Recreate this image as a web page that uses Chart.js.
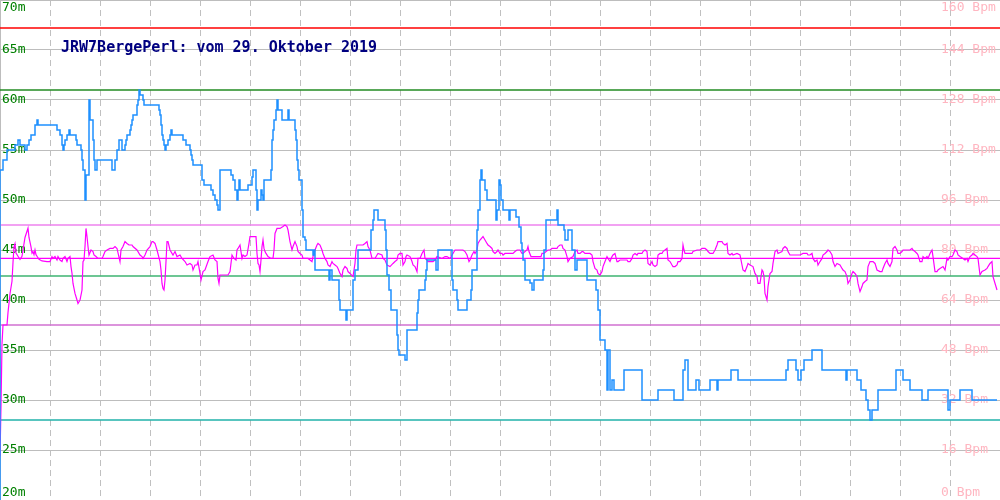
<!DOCTYPE html>
<html>
<head>
<meta charset="utf-8">
<script src="https://cdn.jsdelivr.net/npm/chart.js@4.4.1/dist/chart.umd.min.js"></script>
<style>
  html, body { margin: 0; padding: 0; background: #fff; overflow: hidden; }
  canvas { display: block; }
</style>
</head>
<body>
<canvas id="chart" width="1000" height="500"></canvas>
<script>
// --- data (x = sample position along the track) ---
const chartTitle = 'JRW7BergePerl: vom 29. Oktober 2019';

// altitude in metres, [x, m]; the value holds until the next point
const altitudeA = [[0,20],[3,53],[7,54],[15,55],[18,55.5],[20,56],[25,55.5],[27,55],[29,55.5],[31,56],[35,56.5],[37,57.5],[38,58],[57,57.5],[60,57],[62,56.5],[63,55.5],[64,55],[65,55.5],[67,56],[69,56.5],[70,57],[76,56.5],[77,56],[81,55.5],[82,55],[83,54],[85,53],[86,50],[89,52.5],[90,60],[93,58],[94,56],[95,54],[97,53],[112,54],[115,53],[117,54],[119,55],[122,56],[125,55],[126,55.5],[127,56],[130,56.5],[131,57],[132,57.5],[133,58],[137,58.5],[138,59.5],[139,60],[140,61],[143,60.5],[144,60],[159,59.5],[160,59],[161,58.5],[162,57.5],[163,56.5],[164,56],[165,55.5],[166,55],[168,55.5],[170,56],[171,56.5],[172,57],[183,56.5],[186,56],[190,55.5],[191,55],[192,54.5],[193,54],[202,53.5],[204,52],[211,51.5],[213,51],[215,50.5],[217,50],[218,49.5],[220,49],[231,53],[233,52.5],[235,52],[237,51],[238,50],[239,51],[240,52],[248,51]];
const altitudeB = [[252,51.5],[253,52.3],[256,53],[257,51],[258,49],[261,50],[262,51],[263,50.5],[264,50],[271,52],[272,53],[273,56],[274,57],[276,58],[277,59],[278,60],[282,59],[288,58],[289,59],[295,58],[296,57],[297,56],[298,54],[299,53],[302,52],[303,49],[305,46.3],[306,46],[313,45],[314,44.5],[315,45],[329,43],[330,42],[332,43],[339,42],[340,40],[346,39],[347,38],[353,39],[355,42],[358,43],[371,45],[373,47],[374,48],[378,49],[385,48],[386,47],[387,45],[389,42.5],[391,41],[397,39],[398,36.5],[399,35],[405,34.5],[407,34],[417,37],[418,38.7],[419,40],[425,41],[426,42],[427,43],[436,44],[438,43],[452,45],[453,42],[457,41],[458,40],[467,39],[471,40],[472,41],[477,43],[478,47],[480,49],[481,52],[482,53],[485,52],[487,51],[496,50],[497,48],[499,49]];
const altitudeC = [[500,52],[501,51.5],[503,50],[509,49],[510,48],[516,49],[519,48.3],[521,47.3],[522,45.7],[523,45],[525,44],[530,42],[532,41.7],[534,41],[543,42],[544,43],[546,45],[557,48],[558,49],[564,47.5],[565,47],[568,46],[572,47],[575,45],[577,43],[587,44],[596,42],[598,41],[600,39],[605,36],[607,35],[608,31],[610,35],[612,31],[614,32],[624,31],[642,33],[658,30],[674,31],[683,30],[685,33],[688,34],[696,31],[699,32],[710,31],[717,32],[718,31],[731,32],[738,33]];
const altitudeD = [[786,32],[788,33],[796,34],[798,33],[801,32],[804,33],[812,34],[822,35],[846,33],[847,32],[857,33],[861,32],[866,31],[868,30],[870,29],[872,28],[878,29],[896,31],[903,33],[910,32],[922,31],[928,30],[948,31],[950,29],[960,30],[972,31],[992,30],[997,30]];

// heart rate in Bpm, [x, bpm]
const pulseA = [[0,14],[1,30],[2,50],[3,56],[7,56],[8,60],[10,66],[12,70],[13,76],[14,81],[15,82],[16,79],[18,78],[20,77],[22,78],[23,80],[25,84],[27,86],[28,87],[29,84],[31,81],[32,79],[33,79.5],[34,78.5],[35,80],[36,78.5],[37,78],[39,77],[42,76.5],[47,76.3],[50,76.3],[52,77.9],[53,77.3],[55,77.9],[57,76.8],[58,77.9],[60,76.8],[62,76.3],[63,77.3],[65,77.9],[67,76.3],[68,77.3],[70,77.9],[71,74.7],[72,72.5],[73,69.3],[75,66.1],[77,64],[78,62.9],[80,64],[82,67.2],[83,76.3],[84,76.8],[85,81.1],[86,86.9],[87,84.3],[88,81.1],[89,78.4],[91,80],[93,79.5],[94,78.4],[96,77.9],[98,77.3],[102,77.3],[103,77.9],[105,79.5],[107,80],[110,80.5],[113,80.5],[115,81.1],[117,80.5],[120,76.3],[121,80],[123,81.1],[125,82.7],[127,82.1],[129,81.6],[132,81.6],[133,81.1],[137,80],[140,78.4],[142,77.9],[143,77.3],[145,78.4],[147,80],[150,81.1],[152,82.7],[153,82.7],[155,82.1],[157,80],[160,76.3],[161,73.6],[162,69.3],[163,67.7],[164,67.2],[165,70.4],[166,76.3],[167,82.7],[168,82.7],[170,80],[173,78.4],[175,79.5],[177,77.9],[180,78.4],[182,77.3],[185,76.3],[187,75.2],[190,75.7],[192,75.2],[193,73.6],[195,75.2],[197,75.2],[198,76.3],[200,72.5],[201,70.4],[203,73.1],[205,73.6],[208,76.3],[210,77.9],[213,78.4],[215,76.8],[217,76.3],[218,70.9],[219,69.3],[220,72],[228,72],[230,73.1],[232,78.4],[234,77.3],[236,76.8],[237,80],[238,80.5],[240,81.6],[242,77.3],[243,78.4],[245,77.9],[247,78.4],[249,82.1]];
const pulseB = [[250,84.3],[256,84.3],[257,78.9],[258,75.7],[259,75.2],[260,73.1],[261,76.8],[262,81.1],[263,83.2],[264,80.5],[265,79.5],[266,78.9],[268,77.9],[271,77.3],[273,77.3],[274,80],[275,85.3],[277,86.9],[280,86.9],[283,87.5],[285,88],[287,87.5],[288,86.4],[290,82.7],[292,80],[293,81.1],[295,82.7],[297,81.1],[298,79.5],[300,78.9],[302,78.4],[303,77.3],[308,77.3],[310,76.8],[312,76.3],[313,77.9],[315,80],[317,81.6],[318,82.1],[320,81.6],[322,80],[323,78.9],[325,77.3],[327,76.3],[328,75.2],[330,74.7],[332,76.3],[333,75.7],[335,75.2],[337,74.7],[338,74.1],[340,72.5],[342,71.5],[343,73.6],[345,74.7],[347,74.1],[348,73.1],[350,72.5],[353,71.5],[355,75.7],[356,80],[357,81.6],[363,81.6],[365,82.1],[367,82.7],[368,81.1],[370,80],[372,77.3],[375,77.3],[377,78.4],[378,78.9],[382,78.4],[383,77.3],[385,76.8],[387,75.2],[390,74.7],[393,75.7],[395,76.3],[397,76.8],[398,78.4],[400,78.9],[402,78.9],[403,75.2],[405,76.3],[406,77.9],[407,78.4],[410,77.9],[412,76.3],[413,75.2],[415,74.7],[417,73.1],[418,77.3],[420,77.3],[422,78.9],[424,80],[425,77.3],[427,76.8],[428,76.3],[433,76.3],[435,76.8],[437,77.9],[442,77.3],[445,77.9],[447,77.9],[450,77.3],[452,78.4],[453,78.9],[455,80],[463,80],[465,79.5],[467,78.4],[468,77.3],[469,76.3],[470,76.8],[472,78.4],[474,79.5],[475,78.9],[477,80],[478,82.1],[480,83.2],[483,84.3],[485,83.2],[487,82.1],[488,81.6],[490,81.1],[492,80.5],[493,79.5],[495,78.9],[497,79.5],[498,80]];
const pulseC = [[500,78.9],[502,78.9],[503,78.4],[505,78.9],[513,78.9],[515,79.5],[517,80],[520,80],[522,78.9],[523,78.9],[525,79.5],[527,80],[528,81.1],[529,79.5],[531,77.9],[541,77.9],[542,78.9],[544,78.9],[546,79.5],[548,80],[550,80],[552,80.5],[557,80.5],[558,81.1],[560,81.6],[562,81.6],[563,80.5],[565,80],[567,77.9],[568,76.3],[570,77.3],[573,77.9],[575,79.5],[577,80],[578,78.9],[580,78.9],[582,79.5],[583,79.5],[585,78.9],[590,78.9],[592,78.4],[593,76.3],[595,74.1],[597,73.6],[598,72.5],[600,72],[602,73.1],[603,74.7],[605,76.3],[607,77.9],[608,77.3],[610,76.3],[612,77.9],[613,78.4],[615,78.9],[617,76.3],[618,76.3],[620,76.8],[627,76.8],[628,76.3],[630,76.3],[632,77.3],[633,78.4],[635,78.9],[637,78.4],[638,78.9],[642,78.9],[643,79.5],[645,80],[647,79.5],[648,75.7],[650,75.2],[652,76.3],[653,75.2],[655,74.7],[657,75.2],[658,78.4],[660,78.9],[662,78.9],[663,79.5],[665,80],[667,80.5],[668,76.8],[670,76.3],[672,75.2],[673,74.7],[675,74.7],[677,75.2],[678,76.3],[680,76.3],[682,77.3],[683,81.6],[684,80],[685,78.9],[692,78.9],[693,79.5],[697,80],[700,80],[702,80.5],[705,80.5],[707,80],[708,79.5],[710,78.9],[713,78.9],[715,80],[717,81.6],[718,82.7],[722,82.7],[723,82.1],[725,81.6],[727,82.1],[728,78.9],[730,78.4],[732,78.9],[733,78.4],[737,78.9],[740,78.4],[742,75.2],[743,73.6],[745,73.1],[747,74.7],[748,75.7]];
const pulseD = [[750,75.2],[753,74.7],[755,72.5],[757,71.5],[758,69.3],[760,69.3],[762,73.6],[763,73.1],[764,71.5],[765,66.1],[767,64],[768,68.3],[770,72.5],[772,73.1],[773,75.7],[775,79.5],[777,80],[778,78.9],[782,79.5],[783,80.5],[785,81.1],[787,80.5],[788,79.5],[790,78.4],[800,78.4],[803,78.9],[807,78.9],[808,78.4],[810,78.4],[812,78.9],[813,77.3],[815,76.3],[817,76.8],[818,75.2],[820,76.3],[822,77.3],[823,78.4],[825,78.9],[827,79.5],[828,80],[830,79.5],[832,78.4],[833,76.3],[835,74.7],[837,75.7],[840,75.2],[842,74.1],[843,73.6],[845,73.1],[847,71.5],[848,69.3],[850,70.4],[852,72.5],[853,73.1],[855,72.5],[857,71.5],[858,69.3],[860,66.7],[862,68.3],[863,69.3],[865,69.9],[867,70.4],[868,74.7],[870,76.3],[873,76.3],[875,75.7],[877,73.6],[880,73.1],[882,73.1],[883,74.1],[885,75.7],[887,76.8],[888,75.7],[890,74.7],[892,76.3],[893,80.5],[895,81.1],[897,80],[898,78.9],[900,78.9],[902,79.5],[903,80],[910,80],[912,80.5],[913,80],[915,79.5],[917,78.9],[918,78.4],[920,76.3],[922,76.3],[923,77.9],[925,77.3],[927,77.9],[928,77.3],[930,78.9],[932,80],[933,77.9],[935,73.1],[937,73.1],[938,73.6],[940,74.1],[943,74.7],[945,73.6],[947,77.3],[948,76.8],[950,77.9],[952,77.9],[953,78.4],[955,80],[957,79.5],[958,78.4],[960,77.9],[963,77.3],[965,76.8],[967,77.3],[968,76.3],[970,77.9],[972,78.4],[973,78.9],[975,78.4],[977,77.9],[978,77.3],[980,72],[982,73.1],[985,73.6],[987,74.1],[988,74.7],[990,75.7],[992,76.3],[993,71.5],[997,67.2]];

// reference levels: max marker, max altitude, mean altitude, min altitude
const altLevels = [67.2, 61, 42.4, 28];
// pulse: upper band, mean, lower band
const hrLevels = [88, 77.3, 56];

const altitude = altitudeA.concat(altitudeB, altitudeC, altitudeD);
const pulse = pulseA.concat(pulseB, pulseC, pulseD);

const altColors = ['#ff0000', '#228b22', '#3cb371', '#20b2aa'];
const hrColors = ['#ee82ee', '#ff00ff', '#d070d0'];

function levelSet (value, color, axis) {
  return {
    data: [{ x: 0, y: value }, { x: 1000, y: value }],
    yAxisID: axis,
    borderColor: color,
    borderWidth: 1.3,
    pointRadius: 0
  };
}

const labelsPlugin = {
  id: 'labels',
  beforeDatasetsDraw (chart) {
    const ctx = chart.ctx;
    const clampY = y => Math.min(Math.max(y, 8), 493);
    ctx.save();
    ctx.textBaseline = 'middle';
    ctx.font = '13px "DejaVu Sans Mono"';
    ctx.textAlign = 'left';
    ctx.fillStyle = '#008000';
    chart.scales.alt.ticks.forEach(t => {
      ctx.fillText(t.value + 'm', 2, clampY(chart.scales.alt.getPixelForValue(t.value)));
    });
    ctx.fillStyle = '#ffb6c1';
    chart.scales.hr.ticks.forEach(t => {
      ctx.fillText(t.value + ' Bpm', 941, clampY(chart.scales.hr.getPixelForValue(t.value)));
    });
    ctx.font = 'bold 15px "DejaVu Sans Mono"';
    ctx.fillStyle = '#000080';
    ctx.fillText(chartTitle, 61, 48);
    ctx.restore();
  }
};

const datasets = [
  {
    data: altitude.map(p => ({ x: p[0], y: p[1] })),
    yAxisID: 'alt',
    borderColor: '#1e90ff',
    borderWidth: 1.5,
    stepped: 'after',
    pointRadius: 0
  },
  {
    data: pulse.map(p => ({ x: p[0], y: p[1] })),
    yAxisID: 'hr',
    borderColor: '#ff00ff',
    borderWidth: 1.2,
    pointRadius: 0
  }
];
altLevels.forEach((v, i) => datasets.push(levelSet(v, altColors[i], 'alt')));
hrLevels.forEach((v, i) => datasets.push(levelSet(v, hrColors[i], 'hr')));

new Chart(document.getElementById('chart'), {
  type: 'line',
  data: { datasets: datasets },
  plugins: [labelsPlugin],
  options: {
    responsive: false,
    animation: false,
    devicePixelRatio: 1,
    layout: { padding: 0 },
    plugins: { legend: { display: false }, tooltip: { enabled: false } },
    scales: {
      x: {
        type: 'linear', min: 0, max: 1000,
        ticks: { display: false, stepSize: 50 },
        grid: {
          drawTicks: false,
          color: ctx => (ctx.tick && (ctx.tick.value === 0 || ctx.tick.value === 1000)) ? 'rgba(0,0,0,0)' : '#c0c0c0'
        },
        border: { display: false, dash: [6, 4] }
      },
      alt: {
        position: 'left', min: 20, max: 70,
        ticks: { display: false, stepSize: 5 },
        grid: { drawTicks: false, color: '#bdbdbd' },
        border: { display: true, color: '#bdbdbd' }
      },
      hr: {
        position: 'right', min: 0, max: 160,
        ticks: { display: false, stepSize: 16 },
        grid: { display: false, drawTicks: false },
        border: { display: true, color: '#bdbdbd' }
      }
    }
  }
});
</script>
</body>
</html>
